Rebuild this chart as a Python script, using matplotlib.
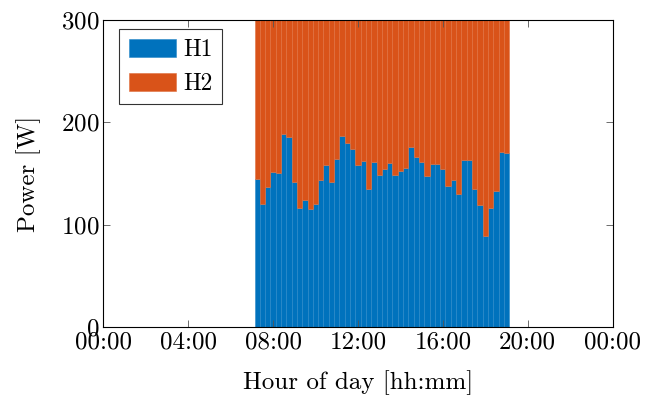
import matplotlib
matplotlib.use('Agg')
import matplotlib.pyplot as plt
import numpy as np

plt.rcParams['font.family'] = 'cmr10'
plt.rcParams['mathtext.fontset'] = 'cm'
plt.rcParams['axes.formatter.use_mathtext'] = True

# 15-minute slots, 07:15 .. 19:00 (hours)
hours = np.arange(48) * 0.25 + 7.25
total = 300
h1 = [145, 120, 137, 152, 151, 189, 186, 142, 116, 124, 115, 120,
      144, 158, 142, 164, 187, 180, 174, 158, 162, 135, 161, 149,
      155, 160, 149, 153, 156, 176, 166, 161, 148, 159, 159, 155,
      138, 144, 130, 163, 163, 135, 119, 89, 116, 133, 171, 170]
h2 = [total - v for v in h1]

xticks = [0, 4, 8, 12, 16, 20, 24]
xticklabels = ['00:00', '04:00', '08:00', '12:00', '16:00', '20:00', '00:00']
yticks = [0, 100, 200, 300]

blue = '#0072BD'
orange = '#D95319'

fig = plt.figure(figsize=(6.64, 3.96), dpi=100)
ax = fig.add_axes([0.1556, 0.1735, 0.767, 0.776])

ax.bar(hours, h1, width=0.25, color=blue, edgecolor='#2a88c8', linewidth=0.4, label='H1')
ax.bar(hours, h2, width=0.25, bottom=h1, color=orange, edgecolor='#e0703e', linewidth=0.4, label='H2')

ax.set_xlim(0, 24)
ax.set_ylim(0, 300)
ax.set_xticks(xticks)
ax.set_xticklabels(xticklabels)
ax.set_yticks(yticks)
ax.tick_params(direction='in', top=True, right=True, length=5, width=0.6,
               color='#555555', labelsize=18, pad=3)
for s in ax.spines.values():
    s.set_linewidth(0.8)

ax.set_xlabel('Hour of day [hh:mm]', fontsize=18, labelpad=12)
ax.set_ylabel('Power [W]', fontsize=18, labelpad=14)

leg = ax.legend(loc='upper left', bbox_to_anchor=(0.031, 0.97), fontsize=17,
                fancybox=False, edgecolor='black',
                handlelength=2.0, handleheight=0.8, borderpad=0.4, labelspacing=0.5,
                handletextpad=0.3, borderaxespad=0)
leg.get_frame().set_linewidth(0.8)

fig.savefig('out.png', dpi=100)
